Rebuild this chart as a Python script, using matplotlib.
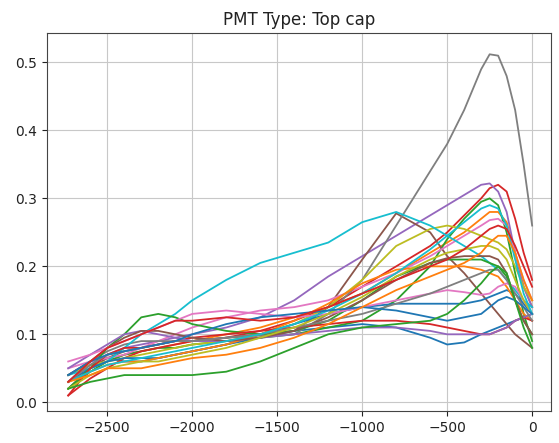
import numpy as np
import matplotlib.pyplot as plt

# ---- Sample positions (distance along the axis) shared by every curve
x = [-2730, -2600, -2500, -2400, -2300, -2200, -2100, -2000, -1800, -1600,
     -1400, -1200, -1000, -800, -600, -500, -400, -300, -250, -200,
     -150, -100, -50, 0]

# ---- One list per PMT curve, in colour-cycle order
pmt_00 = [0.040, 0.060, 0.065, 0.060, 0.060, 0.065, 0.070, 0.075, 0.085, 0.095,
          0.105, 0.110, 0.115, 0.110, 0.095, 0.085, 0.088, 0.100, 0.105, 0.110,
          0.115, 0.120, 0.125, 0.130]
pmt_01 = [0.030, 0.050, 0.060, 0.070, 0.075, 0.080, 0.085, 0.090, 0.100, 0.110,
          0.125, 0.140, 0.160, 0.190, 0.220, 0.235, 0.250, 0.270, 0.280, 0.280,
          0.265, 0.220, 0.170, 0.140]
pmt_02 = [0.020, 0.045, 0.060, 0.070, 0.075, 0.080, 0.080, 0.085, 0.090, 0.095,
          0.100, 0.110, 0.120, 0.150, 0.200, 0.240, 0.270, 0.295, 0.300, 0.290,
          0.250, 0.190, 0.130, 0.090]
pmt_03 = [0.010, 0.035, 0.050, 0.065, 0.075, 0.080, 0.085, 0.090, 0.095, 0.105,
          0.120, 0.140, 0.170, 0.200, 0.230, 0.250, 0.275, 0.300, 0.315, 0.320,
          0.310, 0.270, 0.220, 0.180]
pmt_04 = [0.030, 0.055, 0.070, 0.080, 0.085, 0.090, 0.095, 0.100, 0.110, 0.125,
          0.150, 0.185, 0.215, 0.245, 0.275, 0.290, 0.305, 0.320, 0.322, 0.310,
          0.280, 0.220, 0.170, 0.140]
pmt_05 = [0.020, 0.050, 0.065, 0.075, 0.080, 0.085, 0.090, 0.090, 0.095, 0.100,
          0.105, 0.140, 0.210, 0.278, 0.250, 0.215, 0.190, 0.160, 0.145, 0.130,
          0.115, 0.100, 0.090, 0.080]
pmt_06 = [0.050, 0.060, 0.065, 0.070, 0.080, 0.090, 0.100, 0.110, 0.125, 0.135,
          0.140, 0.150, 0.170, 0.190, 0.215, 0.230, 0.245, 0.260, 0.268, 0.270,
          0.260, 0.220, 0.180, 0.150]
pmt_07 = [0.030, 0.060, 0.075, 0.085, 0.090, 0.090, 0.090, 0.090, 0.095, 0.098,
          0.100, 0.130, 0.180, 0.260, 0.340, 0.380, 0.430, 0.490, 0.512, 0.510,
          0.480, 0.430, 0.350, 0.260]
pmt_08 = [0.040, 0.055, 0.060, 0.065, 0.070, 0.075, 0.080, 0.085, 0.090, 0.100,
          0.115, 0.140, 0.180, 0.230, 0.255, 0.260, 0.255, 0.245, 0.240, 0.235,
          0.225, 0.200, 0.170, 0.150]
pmt_09 = [0.040, 0.050, 0.060, 0.080, 0.100, 0.115, 0.130, 0.150, 0.180, 0.205,
          0.220, 0.235, 0.265, 0.280, 0.260, 0.245, 0.230, 0.215, 0.205, 0.195,
          0.180, 0.165, 0.150, 0.140]
pmt_10 = [0.030, 0.050, 0.060, 0.065, 0.065, 0.065, 0.070, 0.075, 0.085, 0.100,
          0.115, 0.130, 0.140, 0.145, 0.145, 0.145, 0.145, 0.150, 0.155, 0.160,
          0.165, 0.160, 0.145, 0.130]
pmt_11 = [0.030, 0.045, 0.055, 0.060, 0.060, 0.065, 0.070, 0.075, 0.085, 0.100,
          0.120, 0.145, 0.175, 0.195, 0.200, 0.200, 0.200, 0.195, 0.190, 0.185,
          0.170, 0.150, 0.130, 0.120]
pmt_12 = [0.020, 0.050, 0.080, 0.100, 0.125, 0.130, 0.125, 0.115, 0.105, 0.100,
          0.105, 0.120, 0.150, 0.185, 0.205, 0.210, 0.210, 0.210, 0.205, 0.200,
          0.185, 0.150, 0.120, 0.100]
pmt_13 = [0.010, 0.050, 0.070, 0.080, 0.080, 0.085, 0.090, 0.095, 0.100, 0.105,
          0.110, 0.115, 0.120, 0.120, 0.115, 0.110, 0.105, 0.100, 0.100, 0.105,
          0.110, 0.120, 0.125, 0.120]
pmt_14 = [0.050, 0.070, 0.085, 0.100, 0.105, 0.100, 0.095, 0.090, 0.090, 0.095,
          0.100, 0.105, 0.110, 0.110, 0.105, 0.100, 0.100, 0.100, 0.100, 0.105,
          0.110, 0.120, 0.125, 0.130]
pmt_15 = [0.040, 0.060, 0.080, 0.095, 0.105, 0.105, 0.100, 0.095, 0.090, 0.095,
          0.105, 0.125, 0.150, 0.180, 0.205, 0.212, 0.215, 0.215, 0.215, 0.210,
          0.190, 0.150, 0.120, 0.100]
pmt_16 = [0.060, 0.070, 0.080, 0.090, 0.100, 0.110, 0.120, 0.130, 0.135, 0.130,
          0.125, 0.130, 0.140, 0.150, 0.160, 0.165, 0.162, 0.158, 0.160, 0.170,
          0.175, 0.170, 0.150, 0.130]
pmt_17 = [0.030, 0.055, 0.070, 0.075, 0.080, 0.085, 0.090, 0.090, 0.095, 0.100,
          0.110, 0.120, 0.130, 0.145, 0.160, 0.170, 0.180, 0.190, 0.195, 0.195,
          0.180, 0.160, 0.140, 0.120]
pmt_18 = [0.020, 0.040, 0.050, 0.055, 0.060, 0.060, 0.065, 0.070, 0.080, 0.095,
          0.110, 0.130, 0.155, 0.185, 0.210, 0.220, 0.225, 0.230, 0.230, 0.225,
          0.210, 0.180, 0.150, 0.130]
pmt_19 = [0.030, 0.045, 0.055, 0.060, 0.065, 0.070, 0.075, 0.080, 0.090, 0.100,
          0.115, 0.135, 0.160, 0.190, 0.225, 0.245, 0.265, 0.285, 0.290, 0.285,
          0.260, 0.210, 0.160, 0.130]
pmt_20 = [0.040, 0.060, 0.070, 0.075, 0.080, 0.085, 0.090, 0.100, 0.115, 0.125,
          0.130, 0.135, 0.140, 0.135, 0.125, 0.120, 0.125, 0.130, 0.140, 0.150,
          0.155, 0.150, 0.140, 0.130]
pmt_21 = [0.030, 0.040, 0.050, 0.050, 0.050, 0.055, 0.060, 0.065, 0.070, 0.080,
          0.095, 0.115, 0.140, 0.165, 0.185, 0.195, 0.205, 0.220, 0.235, 0.245,
          0.245, 0.220, 0.180, 0.150]
pmt_22 = [0.020, 0.030, 0.035, 0.040, 0.040, 0.040, 0.040, 0.040, 0.045, 0.060,
          0.080, 0.100, 0.110, 0.115, 0.120, 0.130, 0.150, 0.175, 0.190, 0.200,
          0.190, 0.150, 0.110, 0.080]
pmt_23 = [0.030, 0.060, 0.080, 0.090, 0.100, 0.110, 0.120, 0.120, 0.125, 0.120,
          0.125, 0.140, 0.160, 0.180, 0.200, 0.210, 0.225, 0.245, 0.255, 0.260,
          0.255, 0.230, 0.200, 0.170]

curves = [pmt_00, pmt_01, pmt_02, pmt_03, pmt_04, pmt_05, pmt_06, pmt_07,
          pmt_08, pmt_09, pmt_10, pmt_11, pmt_12, pmt_13, pmt_14, pmt_15,
          pmt_16, pmt_17, pmt_18, pmt_19, pmt_20, pmt_21, pmt_22, pmt_23]

# ---- Plot
fig = plt.figure(figsize=(5.59, 4.43), dpi=100)
ax = fig.add_axes([0.084, 0.072, 0.902, 0.853])

for y in curves:
    ax.plot(x, y, linewidth=1.3, solid_joinstyle="round")

ax.set_xlim(-2855, 112)
ax.set_ylim(-0.013, 0.543)
ax.grid(True, color="#c8c8c8")
for s in ax.spines.values():
    s.set_edgecolor("#444444")
ax.tick_params(colors="#222222")
ax.set_title("PMT Type: Top cap", color="#222222")

fig.savefig("out.png", dpi=100)
